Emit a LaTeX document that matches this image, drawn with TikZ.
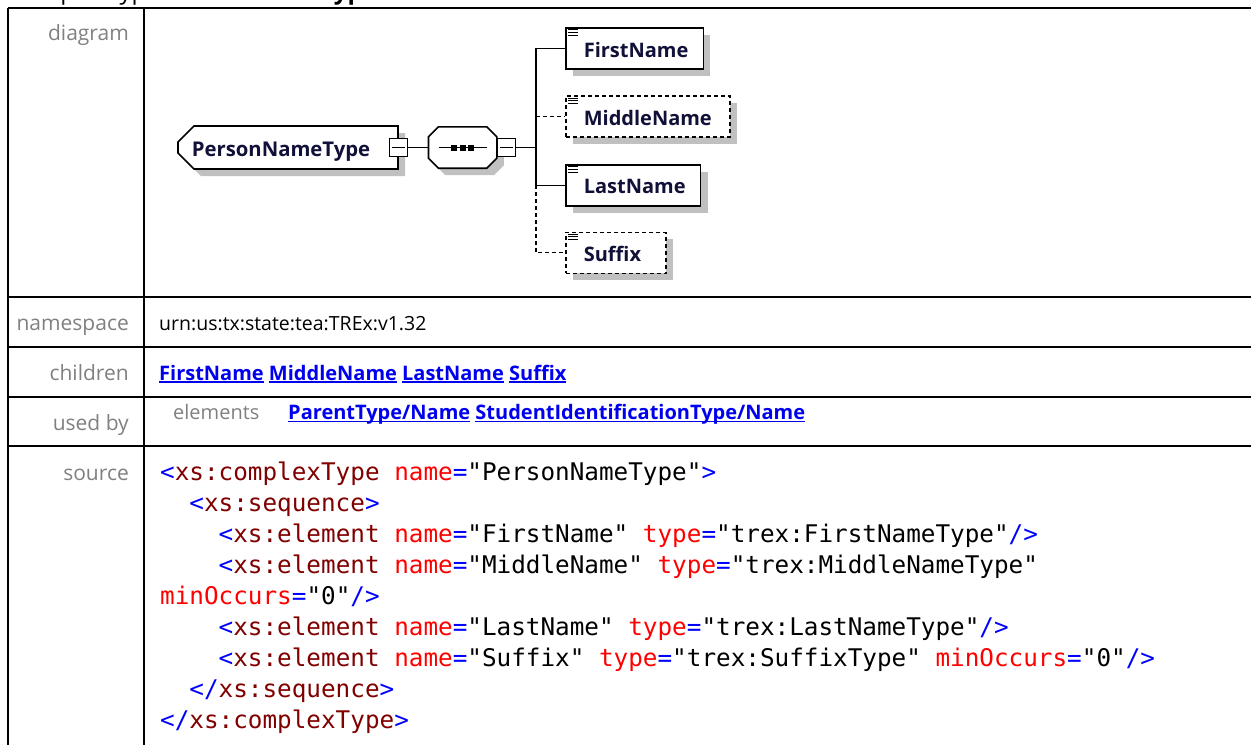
\documentclass[tikz,border=0pt]{standalone}
\usepackage{fontspec}
\setmainfont{Open Sans}
\setmonofont{DejaVu Sans Mono}
\usetikzlibrary{positioning,shapes.misc,shadows}

\definecolor{labelgray}{RGB}{128,128,128}
\definecolor{linkblue}{RGB}{0,0,238}
\definecolor{boxtext}{RGB}{16,16,56}
\definecolor{shadowgray}{RGB}{192,192,192}
\definecolor{xmlblue}{RGB}{0,0,255}
\definecolor{xmltag}{RGB}{128,0,0}
\definecolor{xmlattr}{RGB}{255,0,0}

\newcommand{\xb}[1]{\textcolor{xmlblue}{#1}}
\newcommand{\xt}[1]{\textcolor{xmltag}{#1}}
\newcommand{\xa}[1]{\textcolor{xmlattr}{#1}}
\newcommand{\ind}[1]{\phantom{#1}}
\newsavebox\lnkbox
\newcommand{\lnk}[1]{\sbox\lnkbox{\textbf{#1}}\rlap{\usebox\lnkbox}\rule[-3pt]{\wd\lnkbox}{1.6pt}}

\begin{document}
\begin{tikzpicture}[
    x=1pt, y=-1pt,
    tableline/.style={line width=2pt},
    rowlabel/.style={anchor=base east, inner sep=0pt, text=labelgray,
                     font=\fontsize{21}{25}\selectfont},
    cellvalue/.style={anchor=base west, inner sep=0pt,
                      font=\fontsize{20}{24}\selectfont},
    codeline/.style={anchor=base west, inner sep=0pt,
                     font=\ttfamily\fontsize{24.3}{31}\selectfont},
    boxshadow/.style={drop shadow={shadow xshift=7pt, shadow yshift=-7pt,
                      fill=shadowgray, opacity=1}},
    elembox/.style={draw, line width=1.6pt, fill=white, boxshadow,
                    minimum height=41pt, inner xsep=15pt, inner ysep=0pt,
                    text height=17.4pt, text depth=0pt, text=boxtext,
                    font=\bfseries\fontsize{20}{24}\selectfont, anchor=west},
    optbox/.style={elembox, dash pattern=on 4pt off 3pt},
    typebox/.style={draw, line width=1.6pt, fill=white, boxshadow,
                    chamfered rectangle, chamfered rectangle xsep=8pt,
                    chamfered rectangle ysep=8pt,
                    chamfered rectangle corners={north west,south west},
                    minimum width=220pt, minimum height=43pt, inner sep=0pt,
                    text height=17.4pt, text depth=0pt, text=boxtext,
                    font=\bfseries\fontsize{20.3}{24}\selectfont},
    seqbox/.style={minimum width=68pt, minimum height=41pt, inner sep=0pt},
    seqline/.style={line width=1.6pt, fill=white, boxshadow},
    minusbox/.style={draw, line width=1.3pt, fill=white, minimum size=18pt,
                     inner sep=0pt},
    link/.style={line width=1.3pt},
    optlink/.style={link, dash pattern=on 4pt off 3pt},
]
\useasboundingbox (0,0) rectangle (1251,745);

% Heading (cut off at the top)
\node[anchor=base west, inner sep=0pt, font=\fontsize{24}{28}\selectfont]
    (title) at (12,-1) {complexType \textbf{PersonNameType}};

% Table frame
\draw[tableline] (8,8) -- (1251,8);
\draw[tableline] (8,8) -- (8,745);
\draw[tableline] (144,8) -- (144,745);
\foreach \y in {297, 347, 396.5, 446} {
    \draw[tableline] (8,\y) -- (1251,\y);
}

% Row labels
\node[rowlabel] (lbldiagram) at (129,40) {diagram};
\node[rowlabel] (lblns) at (129,330.7) {namespace};
\node[rowlabel] (lblchildren) at (129,380) {children};
\node[rowlabel] (lblusedby) at (129,430) {used by};
\node[rowlabel] (lblsource) at (129,480) {source};

% Diagram: complex type and sequence
\node[typebox] (pnt) at (288,147.5) {PersonNameType\hspace*{14pt}};
\node[minusbox] (pntminus) at (pnt.east) {};
\draw[link] ([xshift=3pt]pntminus.west) -- ([xshift=-3pt]pntminus.east);

\node[seqbox, right=20pt of pntminus] (seq) {};
\draw[seqline] ([xshift=10pt]seq.north west) -- ([xshift=-10pt]seq.north east)
    -- ([yshift=-10pt]seq.north east) -- ([yshift=10pt]seq.south east)
    -- ([xshift=-10pt]seq.south east) -- ([xshift=10pt]seq.south west)
    -- ([yshift=10pt]seq.south west) -- ([yshift=-10pt]seq.north west) -- cycle;
\node[minusbox, anchor=west] (seqminus) at (seq.east) {};
\draw[link] ([xshift=3pt]seqminus.west) -- ([xshift=-3pt]seqminus.east);
\draw[link] ([xshift=-24pt]seq.center) -- ([xshift=24pt]seq.center);
\foreach \dx in {-8.5, 0, 8.5} {
    \fill ([xshift=\dx pt]seq.center) +(-3,-3) rectangle +(3,3);
}
\draw[link] (pntminus) -- (seq);

% Diagram: child elements
\node[elembox] (first) at (565,48.5) {\hspace*{3pt}FirstName};
\node[optbox, below=25.5pt of first.south west, anchor=north west]
    (mid) {\hspace*{3pt}MiddleName\hspace*{3pt}};
\node[elembox, below=26pt of mid.south west, anchor=north west]
    (last) {\hspace*{3pt}LastName};
\node[optbox, below=25pt of last.south west, anchor=north west]
    (suffix) {\hspace*{3pt}Suffix\hspace*{10pt}};
\foreach \b in {first, mid, last, suffix} {
    \foreach \k in {0,1,2} {
        \draw[line width=1pt] ([xshift=3pt, yshift={-(2.7+2.7*\k)*1pt}]\b.north west)
            -- ++(10,0);
    }
}

\coordinate (trunk) at (536,147.5);
\draw[link] (seqminus) -- (trunk);
\draw[link] (first.west) -| (trunk) |- (last.west);
\draw[optlink] (trunk |- mid.west) -- (mid.west);
\draw[optlink] (trunk |- last.west) |- (suffix.west);

% Namespace, children, used by
\node[cellvalue, font=\fontsize{19.5}{24}\selectfont] (nsval) at (159,330.7)
    {urn:us:tx:state:tea:TREx:v1.32};
\node[cellvalue, text=linkblue] (childlinks) at (159,380)
    {\lnk{FirstName} \lnk{MiddleName} \lnk{LastName} \lnk{Suffix}};
\node[cellvalue, text=labelgray] (usedkind) at (173,419.3) {elements};
\node[cellvalue, text=linkblue] (usedlinks) at (288,419.3)
    {\lnk{ParentType/Name} \lnk{StudentIdentificationType/Name}};

% Source listing
\node[codeline] (src1) at (160,480.7)
    {\xb{<}\xt{xs:complexType} \xa{name}\xb{=}"PersonNameType"\xb{>}};
\node[codeline] (src2) at ([yshift=-31pt]src1.base west)
    {\ind{xx}\xb{<}\xt{xs:sequence}\xb{>}};
\node[codeline] (src3) at ([yshift=-31pt]src2.base west)
    {\ind{xxxx}\xb{<}\xt{xs:element} \xa{name}\xb{=}"FirstName" \xa{type}\xb{=}"trex:FirstNameType"\xb{/>}};
\node[codeline] (src4) at ([yshift=-31pt]src3.base west)
    {\ind{xxxx}\xb{<}\xt{xs:element} \xa{name}\xb{=}"MiddleName" \xa{type}\xb{=}"trex:MiddleNameType"};
\node[codeline] (src5) at ([yshift=-31pt]src4.base west)
    {\xa{minOccurs}\xb{=}"0"\xb{/>}};
\node[codeline] (src6) at ([yshift=-31pt]src5.base west)
    {\ind{xxxx}\xb{<}\xt{xs:element} \xa{name}\xb{=}"LastName" \xa{type}\xb{=}"trex:LastNameType"\xb{/>}};
\node[codeline] (src7) at ([yshift=-31pt]src6.base west)
    {\ind{xxxx}\xb{<}\xt{xs:element} \xa{name}\xb{=}"Suffix" \xa{type}\xb{=}"trex:SuffixType" \xa{minOccurs}\xb{=}"0"\xb{/>}};
\node[codeline] (src8) at ([yshift=-31pt]src7.base west)
    {\ind{xx}\xb{</}\xt{xs:sequence}\xb{>}};
\node[codeline] (src9) at ([yshift=-31pt]src8.base west)
    {\xb{</}\xt{xs:complexType}\xb{>}};
\end{tikzpicture}
\end{document}
